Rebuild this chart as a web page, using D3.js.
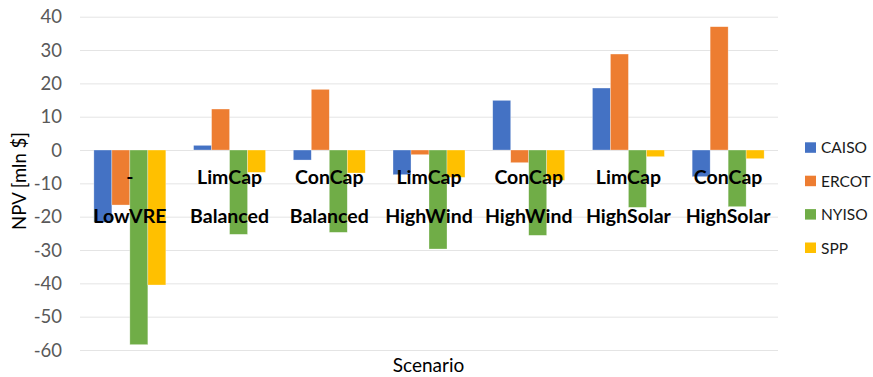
<!DOCTYPE html>
<html>
<head>
<meta charset="utf-8">
<script src="https://cdn.jsdelivr.net/npm/d3@7"></script>
<style>
  html, body { margin: 0; padding: 0; background: #fff; }
  svg { display: block; font-family: Lato, "Open Sans", sans-serif; }
</style>
</head>
<body>
<svg id="chart" width="873" height="377"></svg>
<script>
// Scenario categories (two-line labels)
const scenarioTop = ["-", "LimCap", "ConCap", "LimCap", "ConCap", "LimCap", "ConCap"];
const scenarioBottom = ["LowVRE", "Balanced", "Balanced", "HighWind", "HighWind", "HighSolar", "HighSolar"];
const seriesNames = ["CAISO", "ERCOT", "NYISO", "SPP"];
const seriesColors = ["#4472C4", "#ED7D31", "#70AD47", "#FFC000"];

// NPV per market, million $
const caiso = [-21.7, 1.4, -3.0, -7.4, 14.9, 18.6, -8.0];
const ercot = [-16.5, 12.3, 18.2, -1.4, -3.8, 28.8, 37.0];
const nyiso = [-58.4, -25.3, -24.7, -29.7, -25.6, -17.2, -17.0];
const spp = [-40.5, -6.7, -6.9, -8.2, -9.1, -2.0, -2.6];
const yTicks = [40, 30, 20, 10, 0, -10, -20, -30, -40, -50, -60];

const seriesValues = [caiso, ercot, nyiso, spp];
const catIds = scenarioTop.map((d, i) => i);

const svg = d3.select("#chart");
const plot = { left: 80, right: 778, top: 16.7, bottom: 350 };

const y = d3.scaleLinear().domain([-60, 40]).range([plot.bottom, plot.top]);
const x0 = d3.scaleBand().domain(catIds).range([plot.left, plot.right]).paddingInner(0).paddingOuter(0);
const x1 = d3.scaleBand().domain(seriesNames).range([0, x0.bandwidth()]).paddingInner(0).paddingOuter(0.771);

// Horizontal gridlines with plain-hyphen tick labels
const yAxis = d3.axisLeft(y).tickValues(yTicks).tickSize(-(plot.right - plot.left)).tickFormat(d => String(d));
const gAxis = svg.append("g").attr("transform", `translate(${plot.left},0)`).call(yAxis);
gAxis.select(".domain").remove();
gAxis.selectAll(".tick line").attr("stroke", "#e4e4e4").attr("stroke-width", 1);
gAxis.selectAll(".tick text")
  .attr("x", -18)
  .attr("dy", "0.34em")
  .attr("fill", "#595959")
  .style("font-size", "18.5px")
  .style("font-family", "Lato, sans-serif");

// Bars
const groups = svg.append("g").selectAll("g")
  .data(catIds)
  .join("g")
  .attr("transform", d => `translate(${x0(d)},0)`);

groups.selectAll("rect")
  .data(i => seriesNames.map((s, k) => ({ s, k, v: seriesValues[k][i] })))
  .join("rect")
  .attr("x", d => x1(d.s))
  .attr("width", x1.bandwidth())
  .attr("y", d => y(Math.max(0, d.v)))
  .attr("height", d => Math.abs(y(d.v) - y(0)))
  .attr("fill", d => seriesColors[d.k])
  .attr("stroke", "#ffffff")
  .attr("stroke-opacity", 0.5)
  .attr("stroke-width", 0.6);

// Category labels (drawn over the bars)
const labels = svg.append("g").selectAll("text")
  .data(catIds)
  .join("text")
  .attr("text-anchor", "middle")
  .attr("fill", "#000")
  .style("font-size", "19.5px")
  .style("font-weight", "bold");
labels.append("tspan")
  .attr("x", d => x0(d) + x0.bandwidth() / 2)
  .attr("y", 184)
  .text(d => scenarioTop[d]);
labels.append("tspan")
  .attr("x", d => x0(d) + x0.bandwidth() / 2)
  .attr("y", 222.5)
  .text(d => scenarioBottom[d]);

// Axis titles
svg.append("text")
  .attr("transform", "translate(26,181) rotate(-90)")
  .attr("text-anchor", "middle")
  .attr("fill", "#000")
  .style("font-size", "18.5px")
  .text("NPV [mln $]");

svg.append("text")
  .attr("x", 428.5)
  .attr("y", 372)
  .attr("text-anchor", "middle")
  .attr("fill", "#000")
  .style("font-size", "19px")
  .text("Scenario");

// Legend
const legend = svg.append("g").selectAll("g")
  .data(seriesNames)
  .join("g")
  .attr("transform", (d, i) => `translate(805,${142.3 + i * 33.4})`);
legend.append("rect")
  .attr("width", 11)
  .attr("height", 10.5)
  .attr("fill", (d, i) => seriesColors[i]);
legend.append("text")
  .attr("x", 16)
  .attr("y", 11)
  .attr("fill", "#1a1a1a")
  .style("font-size", "15.5px")
  .text(d => d);
</script>
</body>
</html>
